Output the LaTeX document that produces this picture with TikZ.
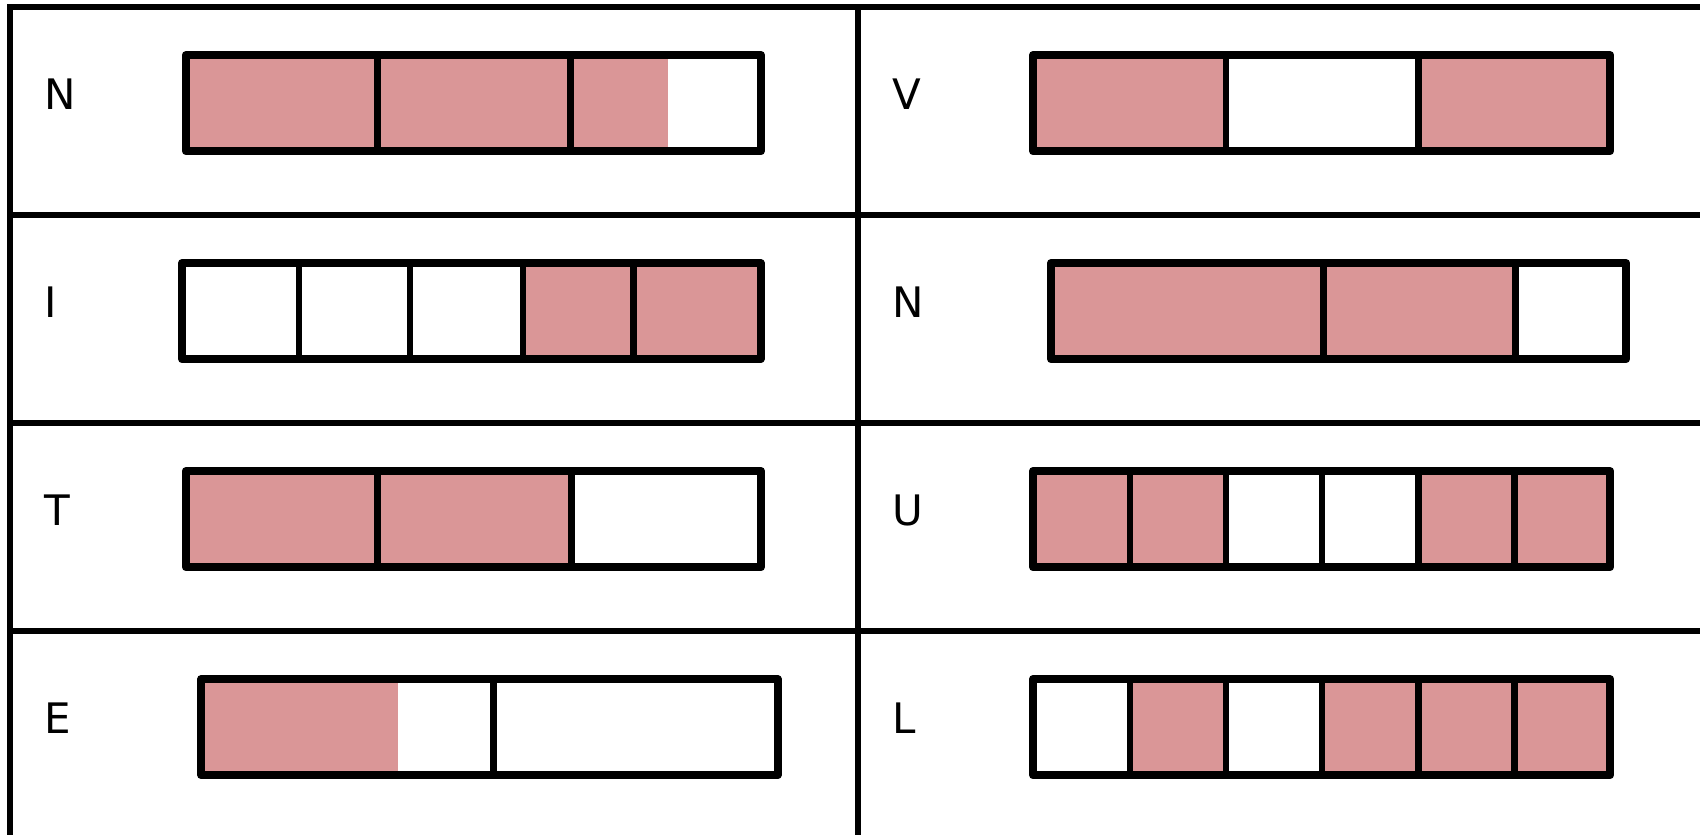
\documentclass[tikz,border=0pt]{standalone}
\usepackage{fontspec}
\setmainfont{DejaVu Sans}
\definecolor{barpink}{RGB}{218,150,151}
\tikzset{
  gridline/.style={line width=5.8pt, line join=miter},
  baroutline/.style={line width=8pt, line join=round},
  divider/.style={line width=6.5pt},
  pinkcell/.style={fill=barpink},
  letter/.style={anchor=base west, inner sep=0pt, font=\fontsize{42}{42}\selectfont}
}
\begin{document}
\begin{tikzpicture}[x=1pt,y=-1pt]
\useasboundingbox (0,0) rectangle (1700,835);
% grid
\draw[gridline] (1700,6.8) -- (9.8,6.8) -- (9.8,835);
\draw[gridline] (858.3,6.8) -- (858.3,835);
\foreach \yy in {215.2,423.2,631.2} \draw[gridline] (9.8,\yy) -- (1700,\yy);
% labels
\node[letter] (lN) at (44.5,109.5) {N};
\node[letter] (lI) at (44.5,317.5) {I};
\node[letter] (lT) at (44.5,525.5) {T};
\node[letter] (lE) at (44.5,733.5) {E};
\node[letter] (rV) at (892.5,109.5) {V};
\node[letter] (rN) at (892.5,317.5) {N};
\node[letter] (rU) at (892.5,525.5) {U};
\node[letter] (rL) at (892.5,733.5) {L};
% Row 1 left: N
\fill[pinkcell] (185.8,55) rectangle (668,151.2);
\foreach \xx in {377.5,570.3} \draw[divider] (\xx,55) -- (\xx,151.2);
\draw[baroutline] (185.8,55) rectangle (761,151.2);
% Row 1 right: V
\fill[pinkcell] (1033,55) rectangle (1226,151.2);
\fill[pinkcell] (1418.5,55) rectangle (1610.2,151.2);
\foreach \xx in {1226,1418.5} \draw[divider] (\xx,55) -- (\xx,151.2);
\draw[baroutline] (1033,55) rectangle (1610.2,151.2);
% Row 2 left: I
\fill[pinkcell] (522.8,263) rectangle (760.5,359.2);
\foreach \xx in {299.2,409.9,522.8,633.5} \draw[divider] (\xx,263) -- (\xx,359.2);
\draw[baroutline] (182,263) rectangle (760.5,359.2);
% Row 2 right: N
\fill[pinkcell] (1051,263) rectangle (1515.5,359.2);
\foreach \xx in {1323.4,1515.5} \draw[divider] (\xx,263) -- (\xx,359.2);
\draw[baroutline] (1051,263) rectangle (1626.2,359.2);
% Row 3 left: T
\fill[pinkcell] (185.8,471) rectangle (571.4,567.2);
\foreach \xx in {377.5,571.4} \draw[divider] (\xx,471) -- (\xx,567.2);
\draw[baroutline] (185.8,471) rectangle (761,567.2);
% Row 3 right: U
\fill[pinkcell] (1033,471) rectangle (1226,567.2);
\fill[pinkcell] (1418.5,471) rectangle (1610.2,567.2);
\foreach \xx in {1130,1226,1322,1418.5,1514.4} \draw[divider] (\xx,471) -- (\xx,567.2);
\draw[baroutline] (1033,471) rectangle (1610.2,567.2);
% Row 4 left: E
\fill[pinkcell] (201.3,679) rectangle (397.9,775.2);
\draw[divider] (493.3,679) -- (493.3,775.2);
\draw[baroutline] (201.3,679) rectangle (777.5,775.2);
% Row 4 right: L
\fill[pinkcell] (1130,679) rectangle (1226,775.2);
\fill[pinkcell] (1322,679) rectangle (1610.2,775.2);
\foreach \xx in {1130,1226,1322,1418.5,1514.4} \draw[divider] (\xx,679) -- (\xx,775.2);
\draw[baroutline] (1033,679) rectangle (1610.2,775.2);
\end{tikzpicture}
\end{document}
